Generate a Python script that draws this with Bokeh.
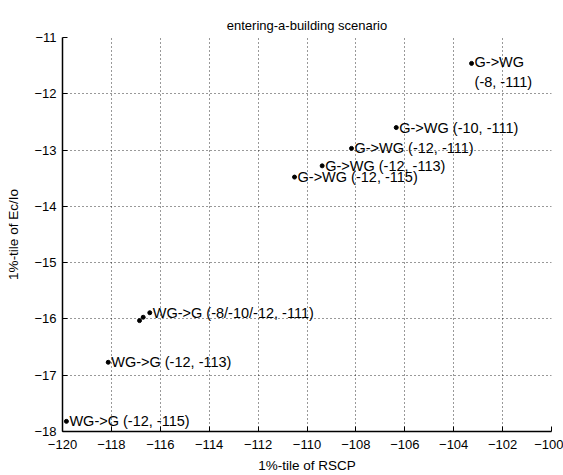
from bokeh.plotting import figure
from bokeh.models import ColumnDataSource, FixedTicker, Range1d
from bokeh.core.properties import value
from bokeh.embed import file_html
from bokeh.resources import INLINE

# data
rscp = [-103.27, -106.35, -108.18, -109.38, -110.51, -116.43, -116.7, -116.85, -118.13, -119.84]
ecio = [-11.46, -12.60, -12.97, -13.28, -13.48, -15.89, -15.97, -16.03, -16.77, -17.82]
labels = ["", "G->WG (-10, -111)", "G->WG (-12, -111)", "G->WG (-12, -113)", "G->WG (-12, -115)",
          "WG->G (-8/-10/-12, -111)", "", "", "WG->G (-12, -113)", "WG->G (-12, -115)"]
top_label_x = [rscp[0]]
top_label_y = [ecio[0]]
top_label = ["G->WG\n(-8, -111)"]

x_ticks = list(range(-120, -99, 2))
y_ticks = list(range(-18, -10, 1))

FONT = "Liberation Sans"

p = figure(width=563, height=475, output_backend="svg", toolbar_location=None,
           x_range=Range1d(-120, -100), y_range=Range1d(-18, -11),
           min_border_left=62, min_border_right=12, min_border_top=37, min_border_bottom=43,
           title="entering-a-building scenario")
p.outline_line_color = None
p.background_fill_color = "white"
p.border_fill_color = "white"

p.title.align = "center"
p.title.text_font = FONT
p.title.text_font_size = "13px"
p.title.text_font_style = "normal"
p.title.text_color = "black"

for ax in (p.xaxis[0], p.yaxis[0]):
    ax.axis_line_color = "black"
    ax.axis_line_width = 1.5
    ax.major_tick_in = 5
    ax.major_tick_out = 0
    ax.minor_tick_in = 0
    ax.minor_tick_out = 0
    ax.major_label_text_font = FONT
    ax.major_label_text_font_size = "13px"
    ax.major_label_text_color = "black"
    ax.axis_label_text_font = FONT
    ax.axis_label_text_font_size = "13.5px"
    ax.axis_label_text_font_style = "normal"
    ax.axis_label_text_color = "black"

p.xaxis.ticker = FixedTicker(ticks=x_ticks)
p.yaxis.ticker = FixedTicker(ticks=y_ticks)
p.xaxis.axis_label = "1%-tile of RSCP"
p.yaxis.axis_label = "1%-tile of Ec/Io"
p.xaxis.major_label_standoff = 8
p.yaxis.major_label_standoff = 6
p.xaxis.axis_label_standoff = 6
p.yaxis.axis_label_standoff = 10

for g in (p.xgrid[0], p.ygrid[0]):
    g.grid_line_color = "black"
    g.grid_line_dash = "1 3"
    g.grid_line_width = 1
    g.grid_line_alpha = 0.8

src = ColumnDataSource(dict(x=rscp, y=ecio, label=labels))
p.scatter("x", "y", source=src, size=4, color="black")
p.text("x", "y", text="label", source=src, x_offset=3, text_baseline="middle",
       text_font=value(FONT), text_font_size="14.5px", text_color="black")

src2 = ColumnDataSource(dict(x=top_label_x, y=top_label_y, label=top_label))
p.text("x", "y", text="label", source=src2, x_offset=3, y_offset=-9, text_baseline="top",
       text_font=value(FONT), text_font_size="14.5px", text_color="black", text_line_height=1.2)

open("out.html", "w").write(file_html(p, INLINE))
